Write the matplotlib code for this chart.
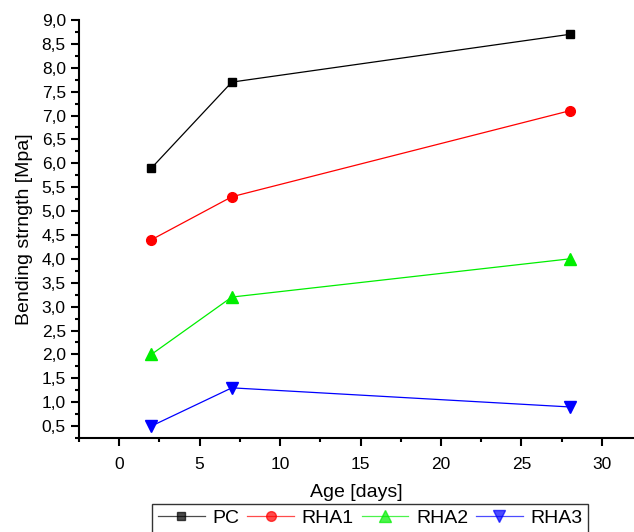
import matplotlib.pyplot as plt
from matplotlib.ticker import MultipleLocator, FuncFormatter

plt.rcParams['font.family'] = ['Liberation Sans', 'DejaVu Sans']

age = [2, 7, 28]
pc = [5.9, 7.7, 8.7]
rha1 = [4.4, 5.3, 7.1]
rha2 = [2.0, 3.2, 4.0]
rha3 = [0.5, 1.3, 0.9]

fig = plt.figure(figsize=(6.34, 5.32), dpi=100)
ax = fig.add_axes([0.1246, 0.1767, 0.8754, 0.7857])

ax.plot(age, pc, color='black', marker='s', ms=6, lw=0.9, label='PC')
ax.plot(age, rha1, color='red', marker='o', ms=7, lw=0.9, label='RHA1')
ax.plot(age, rha2, color='#00ee00', marker='^', ms=8, lw=0.9, label='RHA2')
ax.plot(age, rha3, color='blue', marker='v', ms=8, lw=0.9, label='RHA3')

ax.set_xlim(-2.5, 32)
ax.set_ylim(0.25, 9.0)
ax.xaxis.set_major_locator(MultipleLocator(5))
ax.xaxis.set_minor_locator(MultipleLocator(2.5))
ax.yaxis.set_major_locator(MultipleLocator(0.5))
ax.yaxis.set_minor_locator(MultipleLocator(0.25))
ax.yaxis.set_major_formatter(FuncFormatter(lambda v, p: f'{v:.1f}'.replace('.', ',')))

for s in ['top', 'right']:
    ax.spines[s].set_visible(False)
for s in ['left', 'bottom']:
    ax.spines[s].set_linewidth(1.5)
ax.tick_params(which='major', direction='out', length=6, width=1.5, labelsize=12.5)
ax.tick_params(axis='x', which='major', pad=8)
ax.tick_params(which='minor', direction='out', length=3, width=1.5)

ax.set_xlabel('Age [days]', fontsize=14, labelpad=8)
ax.set_ylabel('Bending strngth [Mpa]', fontsize=14, labelpad=6)

leg = fig.legend(loc='upper center', bbox_to_anchor=(0.584, 0.053), ncol=4, fontsize=14,
                 frameon=True, fancybox=False, edgecolor='black', handlelength=2.4,
                 handletextpad=0.4, columnspacing=0.4, borderpad=0.3, borderaxespad=0)
leg.get_frame().set_linewidth(1.0)
for line in leg.get_lines():
    line.set_alpha(0.7)

fig.savefig('out.png', dpi=100)
